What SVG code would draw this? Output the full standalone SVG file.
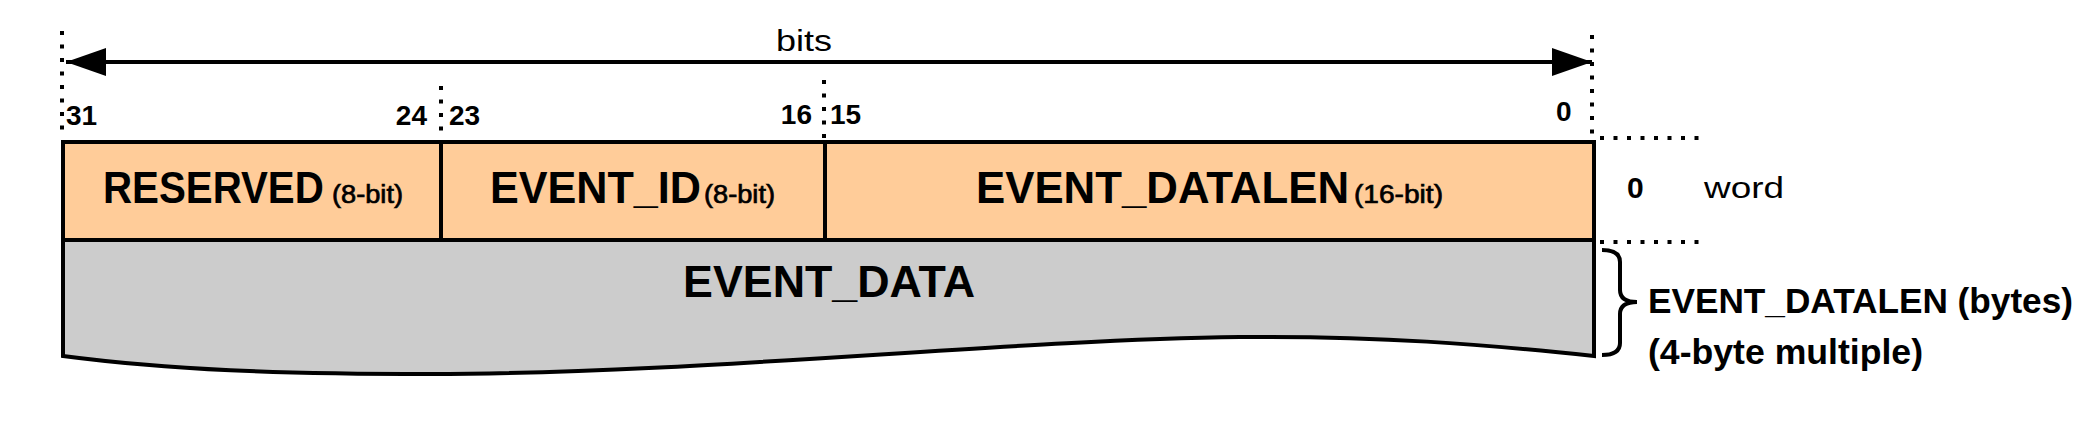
<svg xmlns="http://www.w3.org/2000/svg" width="2083" height="439" viewBox="0 0 2083 439">
<style>
.lbl{font-family:"Liberation Sans",Arial,sans-serif;font-weight:bold;font-size:45px;fill:#000}
.sub{font-family:"Liberation Sans",Arial,sans-serif;font-weight:normal;font-size:26px;fill:#000;stroke:#000;stroke-width:0.7}
.num{font-family:"Liberation Sans",Arial,sans-serif;font-weight:bold;font-size:28px;fill:#000}
.big0{font-size:30px}
.reg{font-family:"Liberation Sans",Arial,sans-serif;font-size:30px;fill:#000}
.side{font-family:"Liberation Sans",Arial,sans-serif;font-weight:bold;font-size:35px;fill:#000}
.dot{stroke:#000;stroke-width:4;stroke-dasharray:4 9.5;fill:none}
.box{stroke:#000;stroke-width:4}
</style>
<defs>
<marker id="ah" viewBox="0 0 40 28" refX="40" refY="14" markerWidth="40" markerHeight="28" markerUnits="userSpaceOnUse" orient="auto-start-reverse">
<path d="M0,0 L40,14 L0,28 Z" fill="#000"/>
</marker>
</defs>
<g id="guides">
<line class="dot" x1="62" y1="31" x2="62" y2="130"/>
<line class="dot" x1="1592" y1="35" x2="1592" y2="138"/>
<line class="dot" x1="441" y1="86" x2="441" y2="140"/>
<line class="dot" x1="824" y1="80" x2="824" y2="140"/>
<line class="dot" x1="1600" y1="138" x2="1700" y2="138"/>
<line class="dot" x1="1600" y1="242" x2="1700" y2="242"/>
</g>
<g id="connectors">
<line x1="66" y1="62" x2="1592" y2="62" stroke="#000" stroke-width="4" marker-start="url(#ah)" marker-end="url(#ah)"/>
</g>
<g id="bits-label">
<text class="reg" x="776" y="51" textLength="56" lengthAdjust="spacingAndGlyphs">bits</text>
</g>
<g id="bit-numbers">
<text class="num" x="66" y="125">31</text>
<text class="num" x="427" y="125" text-anchor="end">24</text>
<text class="num" x="449" y="125">23</text>
<text class="num" x="812" y="124" text-anchor="end">16</text>
<text class="num" x="830" y="124">15</text>
<text class="num" x="1556" y="121">0</text>
</g>
<g id="event-data">
<path class="box" fill="#CCCCCC" d="M63,240 L1594,240 L1594,356 C1480,344 1380,336 1240,337 C1000,340 700,374 430,374 C280,374 170,370 63,356 Z"/>
<text class="lbl" x="829" y="297" text-anchor="middle" textLength="292" lengthAdjust="spacingAndGlyphs">EVENT_DATA</text>
</g>
<g id="reserved">
<rect class="box" x="63" y="142" width="378" height="98" fill="#FFCC99"/>
<text class="lbl" transform="translate(103,203) scale(0.895,1)" x="0" y="0">RESERVED</text>
<text class="sub" x="332" y="203" textLength="71" lengthAdjust="spacingAndGlyphs">(8-bit)</text>
</g>
<g id="event-id">
<rect class="box" x="441" y="142" width="384" height="98" fill="#FFCC99"/>
<text class="lbl" y="203"><tspan x="490" textLength="211" lengthAdjust="spacingAndGlyphs">EVENT_ID</tspan><tspan class="sub" x="704" textLength="71" lengthAdjust="spacingAndGlyphs">(8-bit)</tspan></text>
</g>
<g id="event-datalen">
<rect class="box" x="825" y="142" width="769" height="98" fill="#FFCC99"/>
<text class="lbl" y="203"><tspan x="976" textLength="373" lengthAdjust="spacingAndGlyphs">EVENT_DATALEN</tspan><tspan class="sub" x="1354" textLength="89" lengthAdjust="spacingAndGlyphs">(16-bit)</tspan></text>
</g>
<g id="word-label">
<text class="num big0" x="1627" y="198">0</text>
<text class="reg" x="1704" y="198" textLength="80" lengthAdjust="spacingAndGlyphs">word</text>
</g>
<g id="length-note">
<path d="M1602,250 Q1620,250 1620,262 L1620,290 Q1620,302 1637,302 Q1620,302 1620,314 L1620,343 Q1620,355 1602,355" fill="none" stroke="#000" stroke-width="4"/>
<text class="side" x="1648" y="313" textLength="425" lengthAdjust="spacingAndGlyphs">EVENT_DATALEN (bytes)</text>
<text class="side" x="1648" y="364" textLength="275" lengthAdjust="spacingAndGlyphs">(4-byte multiple)</text>
</g>
</svg>
